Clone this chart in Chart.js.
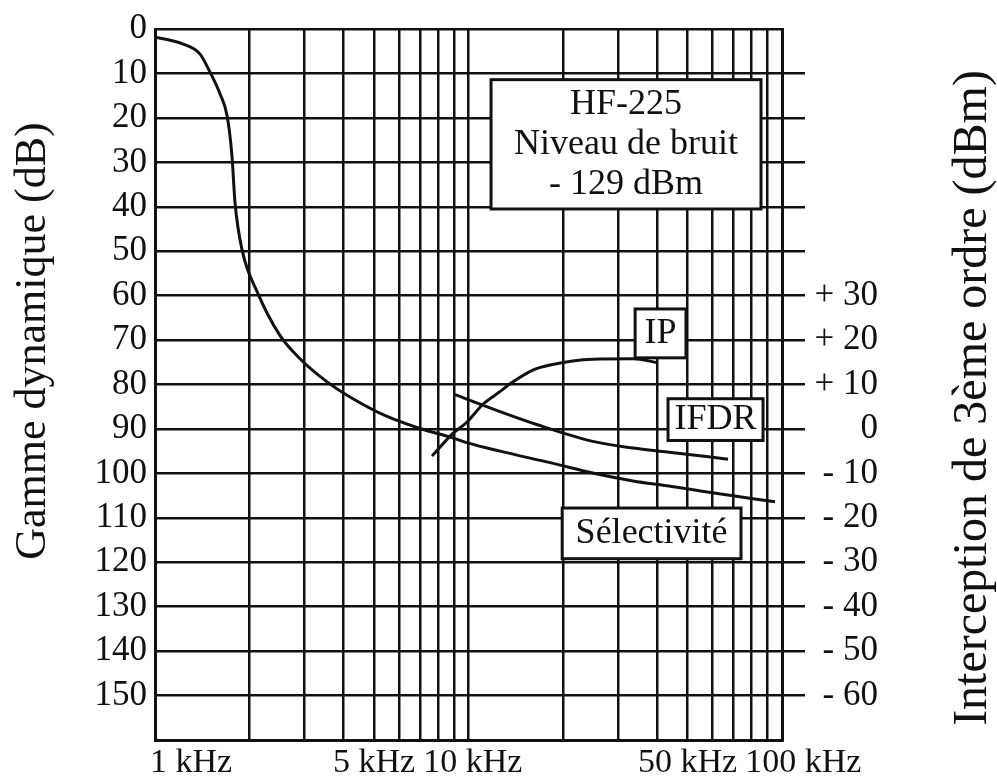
<!DOCTYPE html>
<html lang="fr">
<head>
<meta charset="utf-8">
<title>HF-225 - Gamme dynamique</title>
<script src="https://cdn.jsdelivr.net/npm/chart.js@4.4.1/dist/chart.umd.min.js"></script>
<style>
  html, body { margin: 0; padding: 0; background: #fff; }
  #wrap { width: 997px; height: 778px; }
</style>
</head>
<body>
<div id="wrap"><canvas id="chart"></canvas></div>
<script>
// Gamme dynamique du HF-225 selon l'écart de fréquence (kHz, échelle log)
const freqTicks = [1, 2, 3, 4, 5, 6, 7, 8, 9, 10, 20, 30, 40, 50, 60, 70, 80, 90, 100];
const freqLabels = { 1: '1 kHz', 5: '5 kHz', 10: '10 kHz', 50: '50 kHz', 100: '100 kHz' };
const dbTicks = [0, 10, 20, 30, 40, 50, 60, 70, 80, 90, 100, 110, 120, 130, 140, 150, 160];
const dbmTicks = [90, 80, 70, 60, 50, 40, 30, 20, 10, 0, -10, -20, -30, -40, -50, -60, -70];

// Sélectivité (dB, axe de gauche)
const selFreq = [1.0, 1.23, 1.39, 1.5, 1.61, 1.7, 1.76, 1.8, 1.894, 2.12, 2.5, 2.9, 3.54, 4.28, 5.5, 7.0, 8.9, 10, 12.6, 18.5, 24.9, 33.5, 43, 55.6, 68.8, 80.8, 95];
const selDb = [1.8, 3.4, 5.6, 9.8, 14.5, 19.7, 28.6, 39.1, 49.6, 59.2, 68.9, 74.2, 79.4, 83.2, 87.2, 89.9, 92, 93.2, 95, 97.7, 99.9, 101.7, 102.8, 104, 105, 105.7, 106.4];

// IFDR (dB, axe de gauche)
const ifdrFreq = [9.06, 12.6, 16.5, 24.9, 33.5, 43, 67.3];
const ifdrDb = [82.3, 86.1, 89.0, 92.8, 94.3, 95.2, 96.8];

// IP, interception de 3ème ordre (dBm, axe de droite)
const ipFreq = [7.65, 8.92, 9.88, 11.1, 12.6, 13.6, 16.1, 18.2, 24.9, 33.5, 40.2];
const ipDbm = [-6.1, -1.0, 1.5, 5.5, 8.4, 10.2, 13.3, 14.4, 15.7, 15.8, 14.9];

const serif = "'Liberation Serif', 'Times New Roman', serif";
const ink = '#111';

// cadres de texte, placés en coordonnées du graphique (kHz, dB)
const boxes = [
  { x: [11.8, 85.7], y: [11.4, 40.5], lines: ['HF-225', 'Niveau de bruit', '- 129 dBm'] },
  { x: [34.0, 49.4], y: [63.0, 74.0], lines: ['IP'] },
  { x: [43.3, 87.0], y: [83.2, 92.6], lines: ['IFDR'] },
  { x: [19.9, 74.0], y: [107.8, 119.2], lines: ['Sélectivité'] }
];

const toPoints = (xs, ys) => xs.map((x, i) => ({ x: x, y: ys[i] }));

const annotations = {
  id: 'annotations',
  afterDatasetsDraw(chart) {
    const { ctx, scales: { x, y } } = chart;
    ctx.save();
    boxes.forEach(b => {
      const l = x.getPixelForValue(b.x[0]);
      const r = x.getPixelForValue(b.x[1]);
      const t = y.getPixelForValue(b.y[0]);
      const bt = y.getPixelForValue(b.y[1]);
      ctx.fillStyle = '#fff';
      ctx.fillRect(l, t, r - l, bt - t);
      ctx.lineWidth = 3;
      ctx.strokeStyle = ink;
      ctx.strokeRect(l, t, r - l, bt - t);
      ctx.fillStyle = ink;
      ctx.font = '36px ' + serif;
      ctx.textAlign = 'center';
      ctx.textBaseline = 'middle';
      const cx = (l + r) / 2, cy = (t + bt) / 2;
      b.lines.forEach((s, i) => {
        ctx.fillText(s, cx, cy + (i - (b.lines.length - 1) / 2) * 40);
      });
    });
    ctx.restore();
  },
  afterDraw(chart) {
    const { ctx, scales: { x }, chartArea } = chart;

    // étiquettes kHz : centrées sur leur ligne, poussées à droite si elles se chevauchent
    ctx.save();
    ctx.font = '34px ' + serif;
    ctx.fillStyle = ink;
    ctx.textAlign = 'left';
    ctx.textBaseline = 'middle';
    let prevRight = chartArea.left - 13;
    freqTicks.filter(v => freqLabels[v]).forEach(v => {
      const text = freqLabels[v];
      const w = ctx.measureText(text).width;
      const left = Math.max(x.getPixelForValue(v) - w / 2, prevRight + 8);
      ctx.fillText(text, left, chartArea.bottom + 23);
      prevRight = left + w;
    });
    ctx.restore();

    // titres des axes, lus de bas en haut des deux côtés
    const drawTitle = (text, px, py, size) => {
      ctx.save();
      ctx.translate(px, py);
      ctx.rotate(-Math.PI / 2);
      ctx.font = size + 'px ' + serif;
      ctx.fillStyle = ink;
      ctx.textAlign = 'center';
      ctx.textBaseline = 'middle';
      ctx.fillText(text, 0, 0);
      ctx.restore();
    };
    drawTitle('Gamme dynamique (dB)', 33, 341, 44);
    drawTitle('Interception de 3ème ordre (dBm)', 973, 398, 48);
  }
};

const lineStyle = {
  borderColor: ink,
  borderWidth: 3,
  pointRadius: 0,
  fill: false,
  cubicInterpolationMode: 'monotone'
};

const ctx = document.getElementById('chart').getContext('2d');
const chart = new Chart(ctx, {
  type: 'line',
  data: {
    datasets: [
      { label: 'Sélectivité', data: toPoints(selFreq, selDb), yAxisID: 'y', ...lineStyle },
      { label: 'IFDR', data: toPoints(ifdrFreq, ifdrDb), yAxisID: 'y', ...lineStyle },
      { label: 'IP', data: toPoints(ipFreq, ipDbm), yAxisID: 'y2', ...lineStyle }
    ]
  },
  options: {
    responsive: true,
    maintainAspectRatio: false,
    animation: false,
    layout: { padding: { top: 25, left: 0, right: 119, bottom: 0 } },
    plugins: {
      legend: { display: false },
      tooltip: { enabled: false }
    },
    scales: {
      x: {
        type: 'logarithmic',
        min: 1,
        max: 100,
        afterBuildTicks: scale => { scale.ticks = freqTicks.map(v => ({ value: v })); },
        afterFit: scale => { scale.height = 38; },
        grid: { color: ink, lineWidth: 2.5, drawTicks: false },
        border: { color: ink, width: 3 },
        ticks: { display: false }
      },
      y: {
        position: 'left',
        reverse: true,
        min: 0,
        max: 160,
        afterBuildTicks: scale => { scale.ticks = dbTicks.map(v => ({ value: v })); },
        afterFit: scale => { scale.width = 155; },
        grid: { color: ink, lineWidth: 2.5, drawTicks: false },
        border: { color: ink, width: 3 },
        ticks: {
          autoSkip: false,
          padding: 8,
          color: ink,
          font: { family: serif, size: 35 },
          callback: value => (value <= 150 ? value : '')
        }
      },
      y2: {
        position: 'right',
        min: -70,
        max: 90,
        afterBuildTicks: scale => { scale.ticks = dbmTicks.map(v => ({ value: v })); },
        afterFit: scale => { scale.width = 96; },
        grid: {
          drawOnChartArea: false,
          tickLength: 23,
          lineWidth: 2.5,
          color: c => (c.tick && (c.tick.value === 90 || c.tick.value === -70) ? 'rgba(0,0,0,0)' : ink)
        },
        border: { color: ink, width: 3 },
        ticks: {
          autoSkip: false,
          padding: 8,
          crossAlign: 'far',
          color: ink,
          font: { family: serif, size: 35 },
          callback: value => {
            if (value > 30 || value < -60) return '';
            if (value > 0) return '+ ' + value;
            if (value < 0) return '- ' + (-value);
            return '0';
          }
        }
      }
    }
  },
  plugins: [annotations]
});
</script>
</body>
</html>
